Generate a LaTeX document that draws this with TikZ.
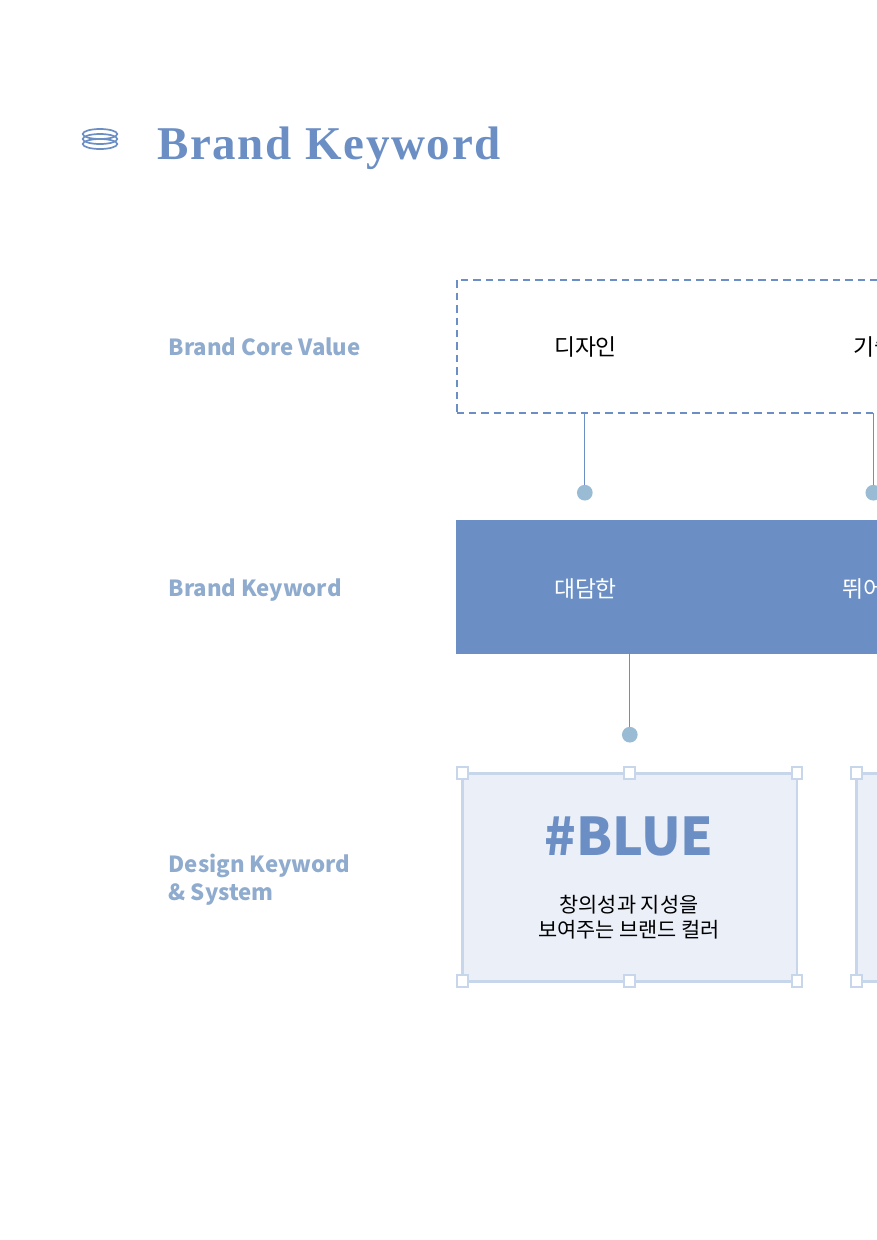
\documentclass[tikz,border=0pt]{standalone}
\usepackage{fontspec}
\setmainfont{Noto Sans CJK KR}
\newfontfamily\titlefont[LetterSpace=3.6]{Liberation Serif}
\usetikzlibrary{shapes,positioning}
\definecolor{mainblue}{HTML}{6B8FC4}
\definecolor{labelblue}{HTML}{8FABCE}
\definecolor{dotblue}{HTML}{99BBD4}
\definecolor{cardfill}{HTML}{EAEFF8}
\definecolor{cardline}{HTML}{C8D6EC}
\begin{document}
\begin{tikzpicture}[x=1pt,y=-1pt]
		\tikzstyle{side_label} = [anchor=base west, inner sep=0, align=left, text=labelblue, font=\fontsize{22.2}{28}\selectfont\bfseries];
		\tikzstyle{word_label} = [inner sep=0, font=\fontsize{22.8}{28}\selectfont];
		\tikzstyle{core_block} = [draw=mainblue, line width=2, dash pattern=on 7.4pt off 5pt, rectangle, outer sep=0, minimum width = 900, minimum height = 133.7, anchor=north west];
		\tikzstyle{key_block} = [fill=mainblue, rectangle, outer sep=0, minimum width = 900, minimum height = 134, anchor=north west];
		\tikzstyle{card_block} = [draw=cardline, fill=cardfill, line width=2.6, rectangle, outer sep=0, minimum width = 334.5, minimum height = 208];
		\tikzstyle{handle} = [draw=cardline, fill=white, line width=2, rectangle, minimum width = 10.7, minimum height = 12, inner sep=0];
		\tikzstyle{dot} = [fill=dotblue, circle, minimum size = 15.7, inner sep=0];
		\tikzstyle{stem} = [draw=mainblue, line width=1.2];
		\tikzstyle{coil} = [draw=mainblue, line width=1.7, ellipse, minimum width = 34.5, minimum height = 10, inner sep=0];

		\clip (0,0) rectangle (877,1240);

		\foreach \i/\y in {1/134,2/139,3/144}{%
			\node[coil] (coil\i) at (100,\y) {};
		}
		\node[anchor=base west, inner sep=0, text=mainblue, font=\titlefont\fontsize{47}{54}\selectfont\bfseries] (title) at (157,159) {Brand Keyword};

		\node[side_label] (lab_core) at (168.5,355) {Brand Core Value};
		\node[side_label] (lab_key) at (168.5,596) {Brand Keyword};
		\node[side_label, anchor=west] (lab_design) at (168.5,880) {Design Keyword\\\& System};

		\node[core_block] (core) at (456.5,279.6) {};
		\node[key_block] (key) at (456,520) {};

		\node[word_label] (val1) at (585.5,347) {디자인};
		\node[word_label] (val2) at (874,347) {기술};
		\node[word_label, text=white] (word1) at (585.5,589) {대담한};
		\node[word_label, text=white] (word2) at (874,589) {뛰어난};

		\node[dot] (dot1) at (584.8,492.7) {};
		\node[dot] (dot2) at (873.3,492.7) {};
		\node[dot] (dot3) at (629.8,734.7) {};
		\draw[stem] (dot1 |- core.south) -- (dot1);
		\draw[stem] (dot2 |- core.south) -- (dot2);
		\draw[stem] (dot3 |- key.south) -- (dot3);

		\foreach \n/\x in {a/629.75,b/1023.5}{%
			\node[card_block] (card\n) at (\x,877.2) {};
			\node[handle] at (card\n.north west) {};
			\node[handle] at (card\n.north) {};
			\node[handle] at (card\n.north east) {};
			\node[handle] at (card\n.south west) {};
			\node[handle] at (card\n.south) {};
			\node[handle] at (card\n.south east) {};
		}
		\node[text=mainblue, inner sep=0, font=\fontsize{52}{60}\selectfont\bfseries] (blue) at (629,836) {\#BLUE};
		\node[align=center, inner sep=0, font=\fontsize{20.8}{25}\selectfont] (blue_text) at (629,917) {창의성과 지성을\\보여주는 브랜드 컬러};
	\end{tikzpicture}
\end{document}
